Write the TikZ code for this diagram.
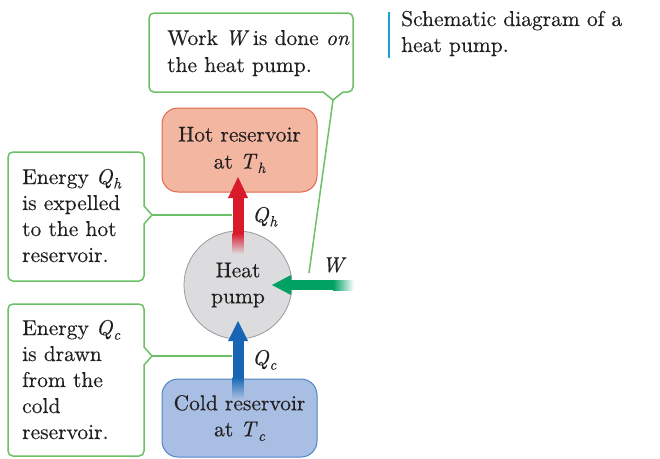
\documentclass[tikz,border=0pt]{standalone}
\usepackage{fontspec}
\setmainfont{lmroman10-regular.otf}[ItalicFont=lmroman10-italic.otf, BoldFont=lmroman10-bold.otf, FakeBold=0.3]
\newcommand{\varsub}[2]{\textit{#1}\kern0.3pt\raisebox{-4.5pt}{\fontsize{15}{15}\selectfont\itshape #2}}
\definecolor{callgreen}{HTML}{6CC166}
\definecolor{hotfill}{HTML}{F3B6A1}
\definecolor{hotdraw}{HTML}{E2674E}
\definecolor{coldfill}{HTML}{A9BEE3}
\definecolor{colddraw}{HTML}{4F84C4}
\definecolor{pumpfill}{HTML}{DCDCDE}
\definecolor{pumpdraw}{HTML}{9A9A9C}
\definecolor{arrred}{HTML}{D81A2B}
\definecolor{arrblue}{HTML}{1666B4}
\definecolor{arrgreen}{HTML}{00A163}
\definecolor{capbar}{HTML}{1BA3D7}
\definecolor{txtcol}{HTML}{231F20}
\begin{document}
\begin{tikzpicture}[x=1pt,y=-1pt,
  txt/.style={font=\fontsize{21.5}{26}\selectfont, text=txtcol, inner sep=0pt},
  callbox/.style={draw=callgreen, line width=1.5pt, fill=white},
  callline/.style={draw=callgreen, line width=1.5pt},
  reservoir/.style={rounded corners=16pt, line width=1pt, minimum width=155pt, align=center, txt},
]
\useasboundingbox (0,0) rectangle (660,458);
\fill[white] (0,0) rectangle (660,458);

% ---- top callout
\draw[callbox] (333,100) -- (323,92) [rounded corners=5pt]-- (149,92) -- (149,13) -- (353,13) -- (353,92) [sharp corners]-- (343,92) -- cycle;
\node[txt, align=left, anchor=base west] (worktxt) at (167,72) {Work \textit{W}\,is done \textit{on}\\[1pt]the heat pump.};

% ---- left callout 1
\draw[callbox] (152,215) -- (144,224) [rounded corners=5pt]-- (144,281) -- (8,281) -- (8,152) -- (144,152) [sharp corners]-- (144,206) -- cycle;
\node[txt, align=left, anchor=base west] (qhtxt) at (22,262) {Energy \varsub{Q}{h}\\is expelled\\to the hot\\reservoir.};

% ---- left callout 2
\draw[callbox] (152,356) -- (144,365) [rounded corners=5pt]-- (144,456) -- (8,456) -- (8,304) -- (144,304) [sharp corners]-- (144,347) -- cycle;
\node[txt, align=left, anchor=base west] (qctxt) at (22,439) {Energy \varsub{Q}{c}\\is drawn\\from the\\cold\\reservoir.};

% ---- pointer lines
\coordinate (tipA) at (333,100);
\coordinate (endA) at (309,273);
\coordinate (tipB) at (152,215);
\coordinate (endB) at (232,215);
\coordinate (tipC) at (152,356);
\coordinate (endC) at (232,356);
\draw[callline] (tipA) -- (endA);
\draw[callline] (tipB) -- (endB);
\draw[callline] (tipC) -- (endC);

% ---- reservoirs and pump
\node[reservoir, draw=hotdraw, fill=hotfill, minimum height=84pt] (hot) at (239.5,150) {Hot reservoir\\[1pt]at \varsub{T}{h}};
\node[reservoir, draw=colddraw, fill=coldfill, minimum height=78pt] (cold) at (239.5,418) {Cold reservoir\\at \varsub{T}{c}};
\node[circle, draw=pumpdraw, fill=pumpfill, line width=0.8pt, minimum size=108pt, align=center, txt] (pump) at (238,285) {Heat\\pump};

% ---- red arrow (pump -> hot)
\fill[arrred] (232.5,197) rectangle (243.5,234);
\shade[top color=arrred, bottom color=pumpfill] (232.5,233) rectangle (243.5,254);
\fill[arrred] (238,177) -- (248,198) -- (228,198) -- cycle;

% ---- blue arrow (cold -> pump)
\fill[arrblue] (232.5,339) rectangle (243.5,378);
\shade[top color=arrblue, bottom color=coldfill] (232.5,377) rectangle (243.5,399);
\fill[arrblue] (238,321) -- (248,341) -- (228,341) -- cycle;

% ---- green arrow (W -> pump)
\fill[arrgreen] (289,280) rectangle (334,290);
\shade[left color=arrgreen, right color=white] (333,280) rectangle (354,290);
\fill[arrgreen] (272,285) -- (291,275) -- (291,295) -- cycle;

% ---- labels
\node[txt, anchor=base west] (lqh) at (252,222) {\varsub{Q}{h}};
\node[txt, anchor=base west] (lqc) at (252,365) {\varsub{Q}{c}};
\node[txt, anchor=base west] (lw) at (322,272) {\textit{W}};

% ---- caption
\draw[capbar, line width=2.5pt] (389,12) -- (389,58);
\node[txt, align=left, anchor=base west] (cap) at (401,52) {Schematic diagram of a\\heat pump.};
\end{tikzpicture}
\end{document}
